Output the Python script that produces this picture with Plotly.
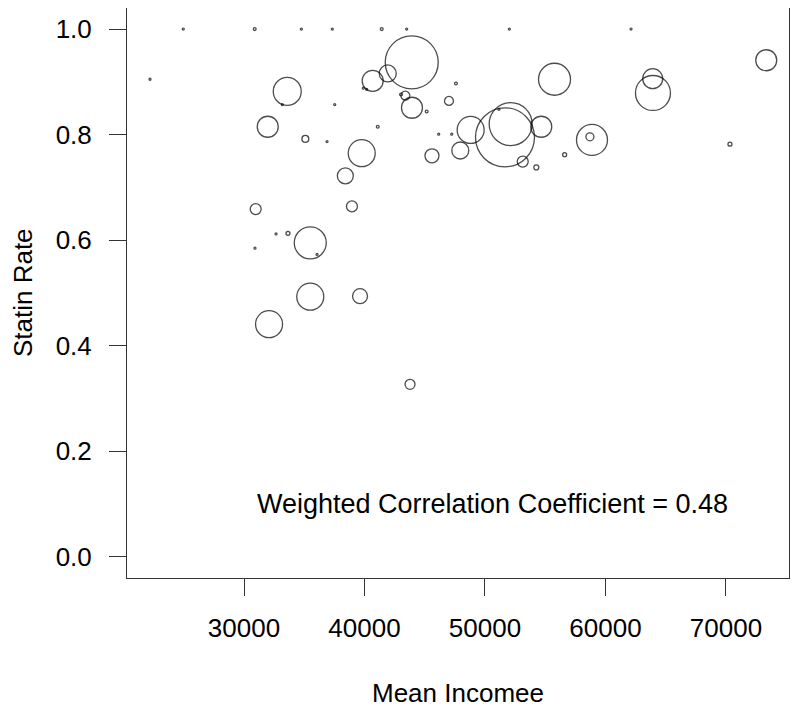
import numpy as np
import plotly.graph_objects as go

# mean income per region, statin rate, and weight (patients)
income = [24960, 30890, 34760, 37330, 41430, 43500, 52020, 62120, 22200, 33590,
          31970, 35090, 37530, 36890, 38410, 33180, 43920, 40680, 41930, 39900,
          40180, 43390, 43030, 43940, 45160, 47590, 47010, 41100, 46160, 47240,
          48810, 51660, 52130, 51160, 54670, 55770, 53130, 54260, 56610, 39770,
          45600, 47950, 73340, 63920, 63940, 58880, 58710, 70330, 30970, 38960,
          32660, 33650, 30910, 35500, 36060, 35500, 39630, 32080, 43780]
statin = [1.000, 1.000, 1.000, 1.000, 1.000, 1.000, 1.000, 1.000, 0.905, 0.882,
          0.815, 0.792, 0.857, 0.787, 0.722, 0.857, 0.937, 0.902, 0.916, 0.888,
          0.886, 0.874, 0.876, 0.851, 0.844, 0.897, 0.864, 0.815, 0.801, 0.801,
          0.809, 0.795, 0.820, 0.848, 0.815, 0.905, 0.749, 0.738, 0.762, 0.765,
          0.760, 0.770, 0.941, 0.906, 0.879, 0.790, 0.796, 0.782, 0.659, 0.664,
          0.612, 0.613, 0.585, 0.595, 0.573, 0.493, 0.494, 0.441, 0.327]
weight = [1, 2, 1, 1, 2, 1, 1, 1, 1, 196,
          110, 12, 1, 1, 64, 1, 702, 110, 72, 1,
          1, 20, 2, 110, 2, 2, 20, 2, 1, 1,
          182, 870, 462, 1, 110, 256, 30, 6, 4, 182,
          49, 72, 110, 100, 306, 240, 16, 4, 30, 30,
          1, 4, 1, 256, 1, 182, 56, 182, 25]

sizes = 2 * np.sqrt(np.array(weight, dtype=float))

font = dict(family="Liberation Sans, Arial, sans-serif", size=26, color="black")

fig = go.Figure()
fig.add_trace(go.Scatter(
    x=income, y=statin, mode="markers",
    marker=dict(symbol="circle-open", size=sizes, sizemode="diameter",
                color="black", line=dict(width=1.3)),
    hoverinfo="x+y", showlegend=False,
))

fig.add_annotation(x=50600, y=0.1, xref="x", yref="y",
                   text="Weighted Correlation Coefficient = 0.48",
                   showarrow=False, font=dict(font, size=27))
fig.add_annotation(x=0.5, y=-0.202, xref="paper", yref="paper",
                   text="Mean Incomee", showarrow=False, font=font,
                   yanchor="middle")
fig.add_annotation(x=-0.157, y=0.5, xref="paper", yref="paper",
                   text="Statin Rate", showarrow=False, font=font,
                   textangle=-90, xanchor="center")

axis_style = dict(showgrid=False, zeroline=False, showline=True, mirror=True,
                  linecolor="#333333", linewidth=1, ticks="outside", ticklen=17,
                  tickcolor="#333333", tickfont=font, automargin=False)

fig.update_xaxes(range=[20290, 75230], tickvals=[30000, 40000, 50000, 60000, 70000],
                 ticktext=["30000", "40000", "50000", "60000", "70000"],
                 ticklabelstandoff=10, **axis_style)
fig.update_yaxes(range=[-0.04, 1.04], tickvals=[0, 0.2, 0.4, 0.6, 0.8, 1.0],
                 ticktext=["0.0", "0.2", "0.4", "0.6", "0.8", "1.0"],
                 ticklabelstandoff=12, **axis_style)

# page body adds an 8px margin, so the figure is a bit smaller than the window
fig.update_layout(width=792, height=705, autosize=False,
                  margin=dict(l=119, r=11, t=0, b=135),
                  plot_bgcolor="white", paper_bgcolor="white")

fig.write_html("out.html")
